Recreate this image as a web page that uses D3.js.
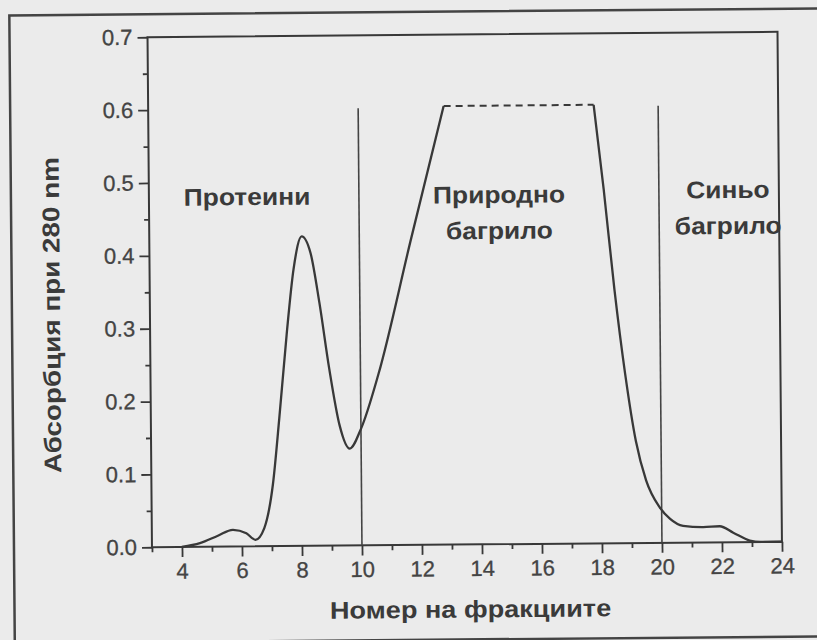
<!DOCTYPE html>
<html>
<head>
<meta charset="utf-8">
<script src="https://cdn.jsdelivr.net/npm/d3@7"></script>
<style>
  html, body { margin: 0; padding: 0; background: #ebebeb; }
  svg { display: block; }
</style>
</head>
<body>
<div id="chart"></div>
<script>
// Tick values
const xMajorTicks = [4, 6, 8, 10, 12, 14, 16, 18, 20, 22, 24];
const xMinorTicks = [3, 5, 7, 9, 11, 13, 15, 17, 19, 21, 23];
const yMajorTicks = [0, 0.1, 0.2, 0.3, 0.4, 0.5, 0.6, 0.7];
const yMinorTicks = [0.05, 0.15, 0.25, 0.35, 0.45, 0.55, 0.65];

// Elution profile, left part (proteins + rise of natural dye)
const leftFraction = [4.0, 4.6, 5.2, 5.7, 6.15, 6.45, 6.75, 7.05, 7.28, 7.55, 7.8, 8.08, 8.37, 8.65, 8.96, 9.29, 9.62, 10.0, 10.6, 11.7, 12.85];
const leftAbsorb   = [0.0, 0.005, 0.015, 0.023, 0.018, 0.009, 0.025, 0.085, 0.175, 0.29, 0.38, 0.425, 0.402, 0.334, 0.243, 0.165, 0.133, 0.16, 0.235, 0.416, 0.602];

// Off-scale part (dashed)
const plateauFraction = [12.85, 17.85];
const plateauAbsorb   = [0.602, 0.602];

// Right part (fall of natural dye + blue dye)
const rightFraction = [17.85, 18.16, 18.49, 18.82, 19.16, 19.49, 19.93, 20.27, 20.71, 21.38, 21.93, 22.38, 22.93, 23.3, 24.0];
const rightAbsorb   = [0.602, 0.486, 0.348, 0.233, 0.14, 0.086, 0.049, 0.033, 0.023, 0.021, 0.022, 0.013, 0.002, 0.0, 0.0];

// Fraction boundaries
const separators = [10, 20];
const separatorTop = 0.6;

// Region labels
const regionLabels = [
  { lines: ["Протеини"], x: 6.27, y: 0.48 },
  { lines: ["Природно", "багрило"], x: 14.67, y: 0.48 },
  { lines: ["Синьо", "багрило"], x: 22.3, y: 0.484 }
];

const width = 817, height = 640;
const ink = "#383838";
const font = "'Liberation Sans', Arial, Helvetica, sans-serif";

const svg = d3.select("#chart").append("svg")
  .attr("width", width)
  .attr("height", height);

svg.append("rect")
  .attr("width", width)
  .attr("height", height)
  .attr("fill", "#ebebeb");

// scanned page is slightly tilted
const page = svg.append("g")
  .attr("transform", "rotate(-0.5, 408, 320)");

// outer frame
page.append("rect")
  .attr("x", 12)
  .attr("y", 12)
  .attr("width", 830)
  .attr("height", 628)
  .attr("fill", "none")
  .attr("stroke", "#444")
  .attr("stroke-width", 2.5);

const x = d3.scaleLinear().domain([3, 24]).range([150, 780]);
const y = d3.scaleLinear().domain([0, 0.7]).range([545, 35]);

// plot box
page.append("rect")
  .attr("x", x(3))
  .attr("y", y(0.7))
  .attr("width", x(24) - x(3))
  .attr("height", y(0) - y(0.7))
  .attr("fill", "none")
  .attr("stroke", ink)
  .attr("stroke-width", 2);

// Axes
page.append("g")
  .attr("transform", `translate(${x(3)},0)`)
  .call(d3.axisLeft(y).tickValues(yMajorTicks).tickFormat(d3.format(".1f")).tickSize(10).tickPadding(5));

page.append("g")
  .attr("transform", `translate(${x(3)},0)`)
  .call(d3.axisLeft(y).tickValues(yMinorTicks).tickFormat("").tickSize(5));

page.append("g")
  .attr("transform", `translate(0,${y(0)})`)
  .call(d3.axisBottom(x).tickValues(xMajorTicks).tickFormat(d3.format("d")).tickSize(10).tickPadding(6));

page.append("g")
  .attr("transform", `translate(0,${y(0)})`)
  .call(d3.axisBottom(x).tickValues(xMinorTicks).tickFormat("").tickSize(5));

page.selectAll(".domain").remove();
page.selectAll(".tick line")
  .attr("stroke", ink)
  .attr("stroke-width", 1.8);
page.selectAll(".tick text")
  .attr("fill", "#444")
  .attr("stroke", "#444")
  .attr("stroke-width", 0.3)
  .attr("font-family", font)
  .attr("font-size", "22px");

// separators
page.selectAll(".sep")
  .data(separators)
  .enter()
  .append("line")
  .attr("class", "sep")
  .attr("x1", d => x(d))
  .attr("x2", d => x(d))
  .attr("y1", y(separatorTop))
  .attr("y2", y(0))
  .attr("stroke", "#444")
  .attr("stroke-width", 1.6);

// curves
const line = d3.line()
  .x(d => x(d[0]))
  .y(d => y(d[1]))
  .curve(d3.curveMonotoneX);

page.append("path")
  .datum(d3.zip(leftFraction, leftAbsorb))
  .attr("d", line)
  .attr("fill", "none")
  .attr("stroke", ink)
  .attr("stroke-width", 2.3);

page.append("path")
  .datum(d3.zip(rightFraction, rightAbsorb))
  .attr("d", line)
  .attr("fill", "none")
  .attr("stroke", ink)
  .attr("stroke-width", 2.3);

page.append("path")
  .datum(d3.zip(plateauFraction, plateauAbsorb))
  .attr("d", d3.line().x(d => x(d[0])).y(d => y(d[1])))
  .attr("fill", "none")
  .attr("stroke", ink)
  .attr("stroke-width", 2)
  .attr("stroke-dasharray", "7,5");

// bold, slightly wide lettering like the printed figure
function wideText(parent, cx, cy, sx, size) {
  return parent.append("text")
    .attr("transform", `translate(${cx},${cy}) scale(${sx},1)`)
    .attr("text-anchor", "middle")
    .attr("font-family", font)
    .attr("font-weight", "bold")
    .attr("font-size", size + "px")
    .attr("fill", "#3a3a3a");
}

// region labels
regionLabels.forEach(lab => {
  const t = wideText(page, x(lab.x), y(lab.y), 1.1, 24);
  lab.lines.forEach((s, i) => {
    t.append("tspan")
      .attr("x", 0)
      .attr("dy", i === 0 ? "0.35em" : "1.5em")
      .text(s);
  });
});

// axis titles
wideText(page, 468, 618, 1.13, 24)
  .text("Номер на фракциите");

wideText(page, 60, 312, 1.0, 24)
  .attr("transform", "translate(60,312) rotate(-90) scale(1.16,1)")
  .text("Абсорбция при 280 nm");
</script>
</body>
</html>
